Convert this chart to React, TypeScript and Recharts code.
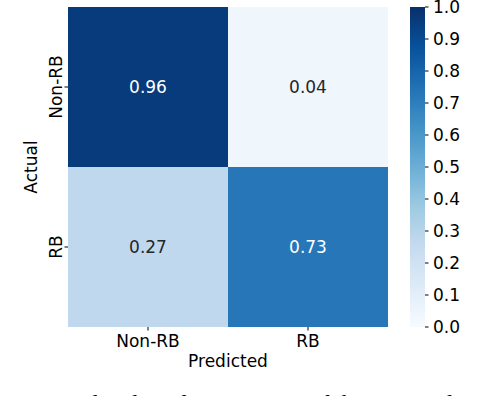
import { BarChart, Bar, XAxis, YAxis, Cell, LabelList } from 'recharts';

// confusion matrix: rows = actual, columns = predicted
const predicted = ['Non-RB', 'RB'];
const actual = ['Non-RB', 'RB'];
const matrix = [
  [0.96, 0.04],
  [0.27, 0.73],
];
const colorbarTicks = [0, 0.1, 0.2, 0.3, 0.4, 0.5, 0.6, 0.7, 0.8, 0.9, 1.0];

// matplotlib "Blues"
const blues = ['#f7fbff', '#deebf7', '#c6dbef', '#9ecae1', '#6baed6', '#4292c6', '#2171b5', '#08519c', '#08306b'];

function hexToRgb(h: string) {
  return [parseInt(h.slice(1, 3), 16), parseInt(h.slice(3, 5), 16), parseInt(h.slice(5, 7), 16)];
}

function bluesAt(v: number): string {
  const t = Math.max(0, Math.min(1, v)) * (blues.length - 1);
  const i = Math.min(Math.floor(t), blues.length - 2);
  const f = t - i;
  const a = hexToRgb(blues[i]);
  const b = hexToRgb(blues[i + 1]);
  const c = a.map((x, k) => Math.round(x + (b[k] - x) * f));
  return `rgb(${c[0]},${c[1]},${c[2]})`;
}

const FONT = '"DejaVu Sans", sans-serif';

// one bar per predicted column, stacked segments are the actual rows (bottom = last row)
const heatData = predicted.map((p, j) => ({
  name: p,
  row1: 1,
  row0: 1,
  val1: matrix[1][j],
  val0: matrix[0][j],
}));

const cbData = [{ name: 'cb', value: 1 }];

function CellText(props: any) {
  const { x, y, width, height, value } = props;
  return (
    <text
      x={x + width / 2}
      y={y + height / 2}
      dy="0.36em"
      textAnchor="middle"
      fontSize={17}
      fontFamily={FONT}
      fill={value > 0.5 ? '#ffffff' : '#262626'}
    >
      {value.toFixed(2)}
    </text>
  );
}

function RowTick(props: any) {
  const { x, y, payload } = props;
  const label = payload.value > 1 ? actual[0] : actual[1];
  return (
    <g transform={`translate(${x - 3},${y})`}>
      <text transform="rotate(-90)" textAnchor="middle" fontSize={17} fontFamily={FONT} fill="#000">
        {label}
      </text>
    </g>
  );
}

export default function App() {
  return (
    <div style={{ position: 'absolute', left: 0, top: 0, width: 486, height: 396, background: '#fff', overflow: 'hidden' }}>
      <div style={{ position: 'absolute', left: 0, top: 0 }}>
        <BarChart
          width={400}
          height={396}
          data={heatData}
          margin={{ top: 7, right: 12, left: 0, bottom: 0 }}
          barCategoryGap={0}
          barGap={0}
        >
          <XAxis
            dataKey="name"
            height={69}
            tickSize={3.5}
            tickMargin={4}
            axisLine={false}
            tick={{ fontSize: 17, fontFamily: FONT, fill: '#000' }}
            tickLine={{ stroke: '#000' }}
            label={(p: any) => {
              const vb = p.viewBox;
              return (
                <text x={vb.x + vb.width / 2} y={vb.y + 40} textAnchor="middle" fontSize={17} fontFamily={FONT} fill="#000">
                  Predicted
                </text>
              );
            }}
          />
          <YAxis
            type="number"
            domain={[0, 2]}
            ticks={[0.5, 1.5]}
            width={68}
            tickSize={3.5}
            tickMargin={0}
            axisLine={false}
            tick={<RowTick />}
            tickLine={{ stroke: '#000' }}
            label={(p: any) => {
              const vb = p.viewBox;
              const cx = 37;
              const cy = vb.y + vb.height / 2;
              return (
                <text x={cx} y={cy} transform={`rotate(-90 ${cx} ${cy})`} textAnchor="middle" fontSize={17} fontFamily={FONT} fill="#000">
                  Actual
                </text>
              );
            }}
          />
          <Bar dataKey="row1" stackId="m" isAnimationActive={false}>
            {heatData.map((d, i) => (
              <Cell key={i} fill={bluesAt(d.val1)} />
            ))}
            <LabelList dataKey="val1" content={<CellText />} />
          </Bar>
          <Bar dataKey="row0" stackId="m" isAnimationActive={false}>
            {heatData.map((d, i) => (
              <Cell key={i} fill={bluesAt(d.val0)} />
            ))}
            <LabelList dataKey="val0" content={<CellText />} />
          </Bar>
        </BarChart>
      </div>

      <div style={{ position: 'absolute', left: 410, top: 0 }}>
        <BarChart
          width={76}
          height={396}
          data={cbData}
          margin={{ top: 7, right: 0, left: 0, bottom: 69 }}
          barCategoryGap={0}
        >
          <defs>
            <linearGradient id="bluesGrad" x1="0" y1="1" x2="0" y2="0">
              {blues.map((c, i) => (
                <stop key={i} offset={i / (blues.length - 1)} stopColor={c} />
              ))}
            </linearGradient>
          </defs>
          <XAxis dataKey="name" hide />
          <YAxis
            orientation="right"
            type="number"
            domain={[0, 1]}
            ticks={colorbarTicks}
            width={61}
            tickSize={3.5}
            tickMargin={4.5}
            axisLine={false}
            tickFormatter={(v: number) => v.toFixed(1)}
            tick={{ fontSize: 17, fontFamily: FONT, fill: '#000', textAnchor: 'start' }}
            tickLine={{ stroke: '#000' }}
            interval={0}
          />
          <Bar dataKey="value" fill="url(#bluesGrad)" isAnimationActive={false} />
        </BarChart>
      </div>

      <div
        style={{
          position: 'absolute',
          left: 3,
          top: 391,
          fontFamily: '"Liberation Serif", serif',
          fontSize: 23.5,
          lineHeight: '24px',
          whiteSpace: 'nowrap',
          color: '#000',
        }}
      >
        2: Normalized confusion matrix of the MUSE dataset.
      </div>
    </div>
  );
}
